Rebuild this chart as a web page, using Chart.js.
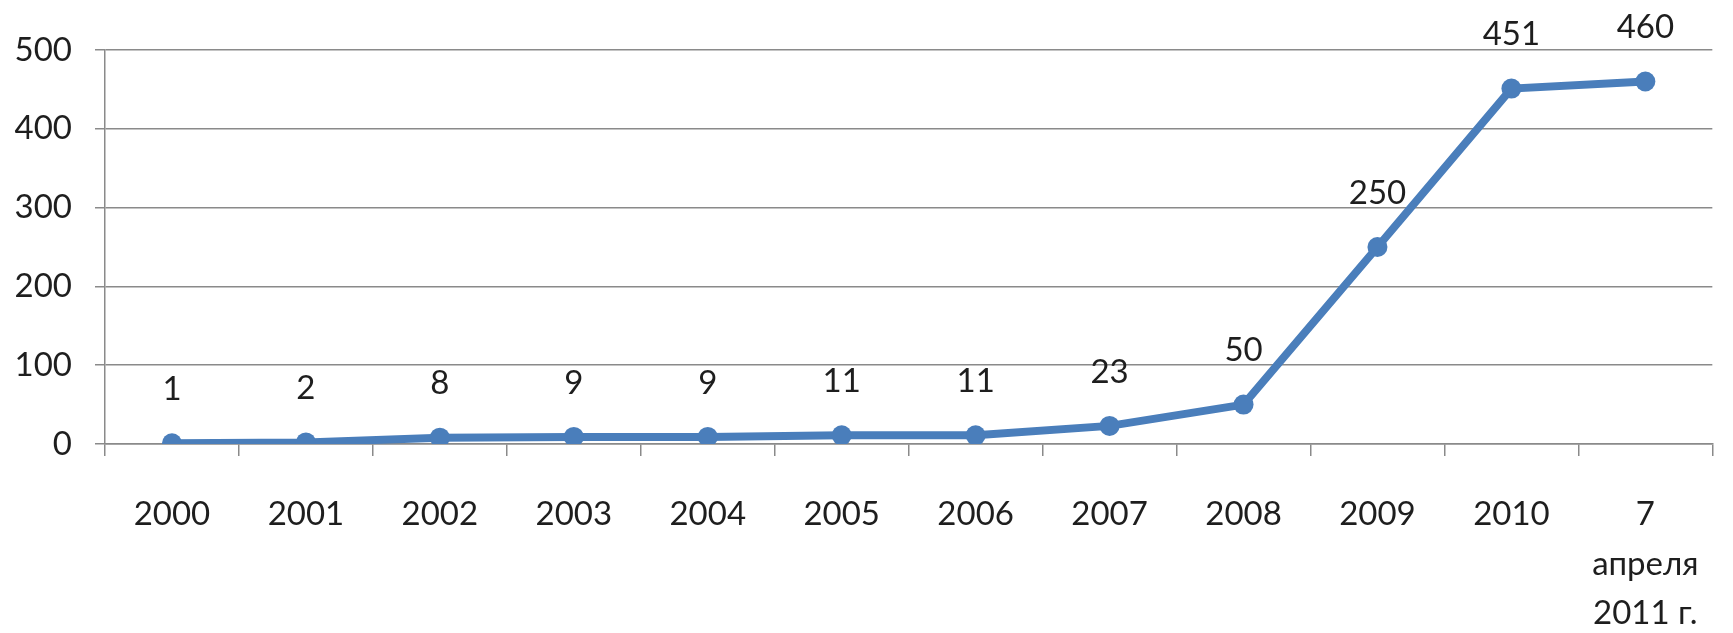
<!DOCTYPE html>
<html>
<head>
<meta charset="utf-8">
<script src="https://cdn.jsdelivr.net/npm/chart.js@4/dist/chart.umd.min.js"></script>
<style>
  html, body { margin: 0; padding: 0; background: #fff; }
  #wrap { width: 1733px; height: 633px; }
</style>
</head>
<body>
<div id="wrap"><canvas id="line-chart"></canvas></div>
<script>
// data
var years = ["2000", "2001", "2002", "2003", "2004", "2005", "2006", "2007", "2008", "2009", "2010", ["7", "апреля", "2011 г."]];
var counts = [1, 2, 8, 9, 9, 11, 11, 23, 50, 250, 451, 460];
var yTicks = [0, 100, 200, 300, 400, 500];

var blue = "#4A7EBB";
var grey = "#8a8a8a";
var ink = "#1e1e1e";
var font = { family: "Lato, 'Open Sans', sans-serif", size: 33, lineHeight: 1.5 };

// value labels above each point
var valueLabels = {
  id: "valueLabels",
  afterDatasetsDraw: function (chart) {
    var ctx = chart.ctx;
    var meta = chart.getDatasetMeta(0);
    ctx.save();
    ctx.font = font.size + "px " + font.family;
    ctx.fillStyle = ink;
    ctx.textAlign = "center";
    ctx.textBaseline = "middle";
    meta.data.forEach(function (pt, i) {
      ctx.fillText(String(counts[i]), pt.x, pt.y - 54);
    });
    ctx.restore();
  }
};

let ctxLine = document.getElementById("line-chart");
ctxLine && new Chart(ctxLine.getContext("2d"), {
  type: "line",
  data: {
    labels: years,
    datasets: [{
      data: counts,
      borderColor: blue,
      backgroundColor: blue,
      borderWidth: 8,
      pointRadius: 10,
      pointHoverRadius: 10,
      pointBorderWidth: 0,
      pointBackgroundColor: blue,
      pointBorderColor: blue,
      tension: 0
    }]
  },
  options: {
    responsive: true,
    maintainAspectRatio: false,
    animation: false,
    layout: { padding: { top: 50, right: 7, left: 0, bottom: 0 } },
    plugins: { legend: { display: false }, tooltip: { enabled: false } },
    scales: {
      x: {
        offset: true,
        grid: { offset: true, drawOnChartArea: false, drawTicks: true, tickLength: 12, color: grey, lineWidth: 1.5 },
        border: { color: grey, width: 1.5 },
        ticks: { color: ink, font: font, padding: 34, maxRotation: 0, autoSkip: false },
        afterFit: function (scale) { scale.height = 189; }
      },
      y: {
        min: 0,
        max: 500,
        afterBuildTicks: function (scale) { scale.ticks = yTicks.map(function (v) { return { value: v }; }); },
        grid: { color: grey, lineWidth: 1.5, tickLength: 10 },
        border: { color: grey, width: 1.5 },
        ticks: { color: ink, font: { family: font.family, size: font.size }, padding: 23 },
        afterFit: function (scale) { scale.width = 105; }
      }
    }
  },
  plugins: [valueLabels]
});
</script>
</body>
</html>
